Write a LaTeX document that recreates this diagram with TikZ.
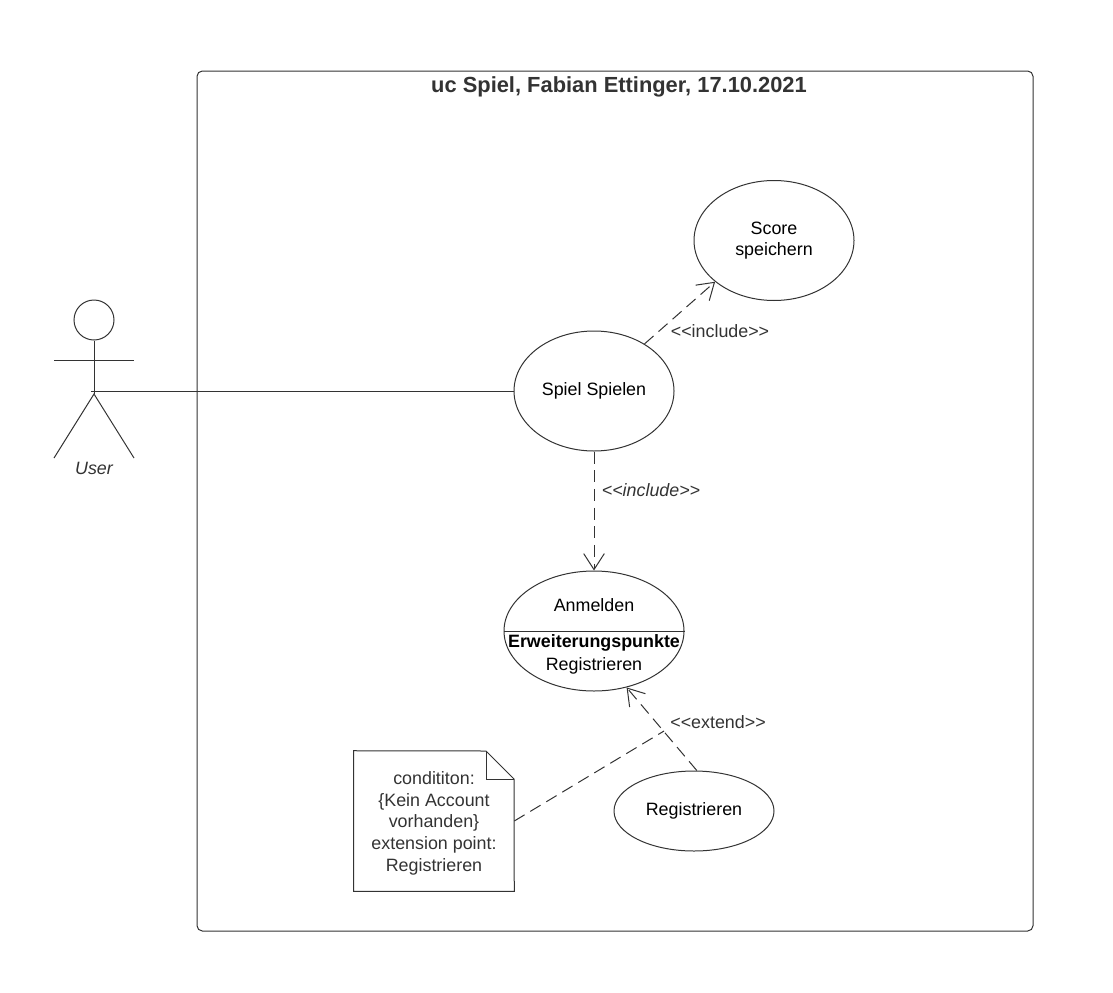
\documentclass[tikz,border=0pt]{standalone}
\usepackage{fontspec}
\setmainfont{Liberation Sans}
\usetikzlibrary{arrows.meta,shapes.geometric}
\definecolor{linegrey}{HTML}{333333}
\tikzset{
  usecase/.style={shape=ellipse, draw=linegrey, line width=0.75pt, inner sep=0pt, text=black, align=center},
  label text/.style={text=linegrey, inner sep=0pt, align=center},
  solid line/.style={draw=linegrey, line width=0.75pt},
  dashed line/.style={draw=linegrey, line width=0.75pt, dash pattern=on 9pt off 5pt},
  open tip/.style={-{Straight Barb[length=12pt,width=15.5pt,line width=0.75pt]}}
}
\begin{document}
\begin{tikzpicture}[x=0.75pt, y=-0.75pt, font=\fontsize{13.4}{16.2}\selectfont]
\useasboundingbox (0,0) rectangle (1113,992);
% frame
\draw[solid line, rounded corners=4pt] (197,71) rectangle (1033,931);
\node[label text, font=\fontsize{16.4}{18}\selectfont\bfseries] (title) at (619,87) {uc Spiel, Fabian Ettinger, 17.10.2021};
% actor
\node[shape=circle, solid line, minimum size=30pt, inner sep=0pt] (head) at (94,320) {};
\coordinate (crotch) at (94,394);
\coordinate (hand1) at (54,360);
\coordinate (hand2) at (134,360);
\coordinate (foot1) at (54,458);
\coordinate (foot2) at (134,458);
\coordinate (hip) at (91,391);
\node[label text, font=\fontsize{13.4}{16.2}\selectfont\itshape] (user) at (94,468) {User};
\draw[solid line] (head.south) -- (crotch);
\draw[solid line] (hand1) -- (hand2);
\draw[solid line] (foot1) -- (crotch) -- (foot2);
% use cases
\node[usecase, minimum width=120pt, minimum height=90pt] (score) at (774,240.5) {Score\\speichern};
\node[usecase, minimum width=120pt, minimum height=90pt] (spiel) at (594,391) {Spiel Spielen};
\node[usecase, minimum width=135pt, minimum height=90pt] (anmelden) at (594,631) {};
\node[usecase, minimum width=120pt, minimum height=60pt] (registrieren) at (694,811) {Registrieren};
\node[label text, text=black] (anmeldentext) at (594,605) {Anmelden};
\node[label text, text=black, font=\fontsize{13.4}{16.2}\selectfont\bfseries] (punkte) at (594,643) {Erweiterungspunkte};
\node[label text, text=black] (punkt) at (594,666) {Registrieren};
\draw[solid line] (anmelden.west) -- (anmelden.east);
% note
\node[label text, minimum width=120pt, minimum height=105pt] (note) at (434,821) {\rule{0pt}{13pt}condititon:\\{\{}Kein Account\\vorhanden{\}}\\extension point:\\Registrieren};
\coordinate (fold1) at (486,751);
\coordinate (fold2) at (514,779);
\coordinate (fold3) at (486,779);
\draw[solid line] (note.north west) -- (fold1) -- (fold2) -- (note.south east) -- (note.south west) -- cycle;
\draw[solid line] (fold1) -- (fold3) -- (fold2);
% connectors
\draw[solid line] (hip) -- (spiel.west);
\draw[dashed line, open tip] (spiel.43) -- (score.215);
\draw[dashed line, open tip] (spiel.south) -- (anmelden.north);
\draw[dashed line, open tip] (registrieren.86) -- (anmelden.300);
\coordinate (extpoint) at (664,731);
\draw[dashed line] (note.east) -- (extpoint);
% labels
\node[label text] (include1) at (720,331) {{<}{<}include{>}{>}};
\node[label text, font=\fontsize{13.4}{16.2}\selectfont\itshape] (include2) at (651,490) {{<}{<}include{>}{>}};
\node[label text] (extend) at (718,722) {{<}{<}extend{>}{>}};
\end{tikzpicture}
\end{document}
